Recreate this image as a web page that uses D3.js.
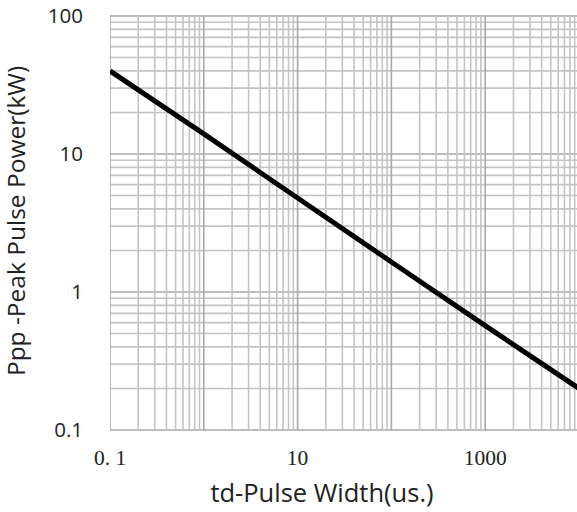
<!DOCTYPE html>
<html>
<head>
<meta charset="utf-8">
<script src="https://cdn.jsdelivr.net/npm/d3@7"></script>
<style>
  body { margin: 0; background: #fff; }
</style>
</head>
<body>
<div id="vis"></div>
<script>
// curve (log-log, straight line)
const pulseWidth = [0.1, 1, 10, 100, 1000, 10000];
const peakPower = [40, 14, 4.8, 1.65, 0.57, 0.2];

const xTicks = [0.1, 10, 1000];
const xTickLabels = ['0. 1', '10', '1000'];
const yTicks = [0.1, 1, 10, 100];
const yTickLabels = ['0.1', '1', '10', '100'];

let W = 577, H = 512;
let margin = { top: 16, left: 110, right: -2, bottom: 82 };
let width = W - margin.left - margin.right,
  height = H - margin.top - margin.bottom;

let svg = d3.select('#vis')
  .append('svg')
  .attr('width', W)
  .attr('height', H)
  .style('display', 'block');

let x = d3.scaleLog().domain([0.1, 10000]).range([margin.left, margin.left + width]);
let y = d3.scaleLog().domain([0.1, 100]).range([margin.top + height, margin.top]);

// every 1..9 line of each decade
let xGrid = [], yGrid = [];
for (let e = -1; e < 4; e++) for (let m = 1; m < 10; m++) xGrid.push(m * Math.pow(10, e));
for (let e = -1; e < 2; e++) for (let m = 1; m < 10; m++) yGrid.push(m * Math.pow(10, e));
xGrid.push(10000); yGrid.push(100);

let isDecade = v => Math.abs(Math.log10(v) - Math.round(Math.log10(v))) < 1e-9;

let plot = svg.append('g');
plot.append('clipPath').attr('id', 'clip')
  .append('rect').attr('x', margin.left).attr('y', margin.top - 2)
  .attr('width', width + 2).attr('height', height + 4);

let grid = plot.append('g').attr('clip-path', 'url(#clip)');
grid.selectAll('line.h').data(yGrid).join('line')
  .attr('class', 'h')
  .attr('x1', margin.left).attr('x2', margin.left + width)
  .attr('y1', d => y(d)).attr('y2', d => y(d))
  .attr('stroke', d => isDecade(d) ? '#a8a8a8' : '#c4c4c4')
  .attr('stroke-width', 1.6);
grid.selectAll('line.v').data(xGrid).join('line')
  .attr('class', 'v')
  .attr('x1', d => x(d)).attr('x2', d => x(d))
  .attr('y1', margin.top).attr('y2', margin.top + height)
  .attr('stroke', d => isDecade(d) ? '#a8a8a8' : '#c4c4c4')
  .attr('stroke-width', 1.6);

// the curve
let line = d3.line().x((d, i) => x(pulseWidth[i])).y(d => y(d));
grid.append('path')
  .datum(peakPower)
  .attr('d', line)
  .attr('fill', 'none')
  .attr('stroke', '#000')
  .attr('stroke-width', 5);

// tick labels
svg.selectAll('text.yt').data(yTicks).join('text')
  .attr('class', 'yt')
  .attr('x', 83).attr('y', d => y(d))
  .attr('dy', '0.36em')
  .attr('text-anchor', 'end')
  .style('font-family', '"Open Sans", sans-serif')
  .style('font-size', '20.5px')
  .attr('fill', '#222')
  .text((d, i) => yTickLabels[i]);

svg.selectAll('text.xt').data(xTicks).join('text')
  .attr('class', 'xt')
  .attr('x', d => x(d)).attr('y', 465)
  .attr('text-anchor', 'middle')
  .style('font-family', '"Liberation Serif", serif')
  .style('font-size', '21.5px')
  .attr('fill', '#222')
  .text((d, i) => xTickLabels[i]);

// axis titles
svg.append('text')
  .attr('x', 322).attr('y', 502)
  .attr('text-anchor', 'middle')
  .style('font-family', '"Open Sans", sans-serif')
  .style('font-size', '25.5px')
  .attr('fill', '#222')
  .text('td-Pulse Width(us.)');

svg.append('text')
  .attr('transform', 'translate(25,221) rotate(-90)')
  .attr('text-anchor', 'middle')
  .style('font-family', '"Open Sans", sans-serif')
  .style('font-size', '24.5px')
  .attr('fill', '#222')
  .text('Ppp -Peak Pulse Power(kW)');
</script>
</body>
</html>
